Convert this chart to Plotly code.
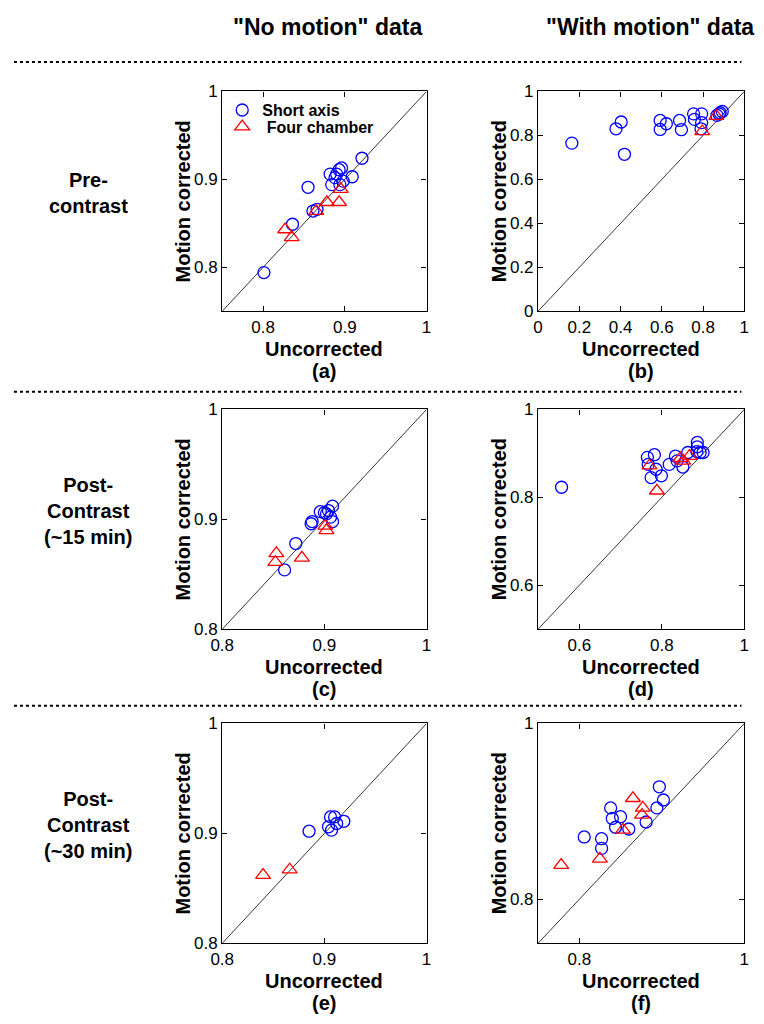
import plotly.graph_objects as go

# ---------------- data ----------------
# (a) No motion, pre-contrast
a_sa_x = [0.801, 0.836, 0.855, 0.861, 0.866, 0.921, 0.909, 0.882, 0.884, 0.888, 0.893, 0.896, 0.894, 0.890, 0.898]
a_sa_y = [0.794, 0.849, 0.891, 0.864, 0.866, 0.924, 0.903, 0.906, 0.894, 0.902, 0.911, 0.913, 0.894, 0.906, 0.898]
a_fc_x = [0.827, 0.835, 0.865, 0.878, 0.893, 0.895]
a_fc_y = [0.843, 0.834, 0.864, 0.874, 0.874, 0.889]

# (b) With motion, pre-contrast
b_sa_x = [0.164, 0.378, 0.403, 0.419, 0.592, 0.592, 0.622, 0.686, 0.695, 0.754, 0.758, 0.793, 0.793, 0.790, 0.867, 0.883, 0.893, 0.878]
b_sa_y = [0.765, 0.830, 0.861, 0.714, 0.868, 0.827, 0.853, 0.868, 0.826, 0.898, 0.873, 0.898, 0.858, 0.830, 0.891, 0.903, 0.909, 0.897]
b_fc_x = [0.796, 0.864]
b_fc_y = [0.818, 0.888]

# (c) No motion, post-contrast ~15 min
c_sa_x = [0.861, 0.872, 0.887, 0.888, 0.896, 0.900, 0.902, 0.904, 0.908, 0.908, 0.906]
c_sa_y = [0.854, 0.878, 0.896, 0.898, 0.907, 0.906, 0.905, 0.908, 0.912, 0.898, 0.902]
c_fc_x = [0.853, 0.852, 0.878, 0.901, 0.902]
c_fc_y = [0.869, 0.861, 0.865, 0.894, 0.890]

# (d) With motion, post-contrast ~15 min
d_sa_x = [0.557, 0.765, 0.782, 0.767, 0.774, 0.786, 0.799, 0.818, 0.833, 0.837, 0.851, 0.863, 0.886, 0.886, 0.885, 0.893, 0.900]
d_sa_y = [0.823, 0.891, 0.897, 0.875, 0.845, 0.864, 0.849, 0.875, 0.894, 0.883, 0.869, 0.902, 0.925, 0.915, 0.904, 0.902, 0.902]
d_fc_x = [0.770, 0.788, 0.845, 0.867, 0.852]
d_fc_y = [0.872, 0.815, 0.889, 0.894, 0.883]

# (e) No motion, post-contrast ~30 min
e_sa_x = [0.885, 0.904, 0.907, 0.910, 0.912, 0.919, 0.906]
e_sa_y = [0.902, 0.906, 0.903, 0.915, 0.909, 0.911, 0.915]
e_fc_x = [0.840, 0.866]
e_fc_y = [0.862, 0.867]

# (f) With motion, post-contrast ~30 min
f_sa_x = [0.806, 0.827, 0.827, 0.838, 0.840, 0.850, 0.844, 0.860, 0.881, 0.894, 0.902, 0.897]
f_sa_y = [0.871, 0.869, 0.858, 0.904, 0.892, 0.894, 0.882, 0.880, 0.888, 0.904, 0.913, 0.928]
f_fc_x = [0.778, 0.825, 0.853, 0.865, 0.877, 0.876]
f_fc_y = [0.839, 0.846, 0.879, 0.915, 0.904, 0.896]

# axis ranges and ticks
range_a = [0.75, 1.0]; ticks_a = [0.8, 0.9, 1.0]
range_b = [0.0, 1.0];  ticks_b = [0, 0.2, 0.4, 0.6, 0.8, 1.0]
range_c = [0.8, 1.0];  ticks_c = [0.8, 0.9, 1.0]
range_d = [0.5, 1.0];  ticks_d = [0.6, 0.8, 1.0]
range_e = [0.8, 1.0];  ticks_e = [0.8, 0.9, 1.0]
range_f = [0.75, 1.0]; ticks_f = [0.8, 1.0]

panel_labels = ["(a)", "(b)", "(c)", "(d)", "(e)", "(f)"]
col_headers = ['"No motion" data', '"With motion" data']
row_labels = ["Pre-<br>contrast", "Post-<br>Contrast<br>(~15 min)", "Post-<br>Contrast<br>(~30 min)"]
series_names = ["Short axis", "\u00a0Four chamber"]
x_title = "Uncorrected"
y_title = "Motion corrected"

# ---------------- layout geometry ----------------
W, H = 764, 1024
col_px = [(215, 424), (538, 749)]
row_px = [(84, 308), (408, 632), (728, 952)]

panels = [
    (a_sa_x, a_sa_y, a_fc_x, a_fc_y, range_a, ticks_a),
    (b_sa_x, b_sa_y, b_fc_x, b_fc_y, range_b, ticks_b),
    (c_sa_x, c_sa_y, c_fc_x, c_fc_y, range_c, ticks_c),
    (d_sa_x, d_sa_y, d_fc_x, d_fc_y, range_d, ticks_d),
    (e_sa_x, e_sa_y, e_fc_x, e_fc_y, range_e, ticks_e),
    (f_sa_x, f_sa_y, f_fc_x, f_fc_y, range_f, ticks_f),
]

BLUE = "#0000FF"
RED = "#FF0000"
FONT = "Liberation Sans, Arial, sans-serif"

def px_x(v):
    return v / W

def px_y(v):
    return 1 - v / H

fig = go.Figure()
layout = {}
annotations = []
shapes = []

for i, (sx, sy, fx, fy, rng, tv) in enumerate(panels):
    r, c = divmod(i, 2)
    k = i + 1
    xa = "x" if k == 1 else f"x{k}"
    ya = "y" if k == 1 else f"y{k}"
    # diagonal identity line
    fig.add_trace(go.Scatter(x=rng, y=rng, xaxis=xa, yaxis=ya, mode="lines",
                             line=dict(color="black", width=0.8),
                             showlegend=False, hoverinfo="skip"))
    fig.add_trace(go.Scatter(x=sx, y=sy, xaxis=xa, yaxis=ya, mode="markers",
                             name=series_names[0],
                             marker=dict(symbol="circle-open", size=12, color=BLUE,
                                         line=dict(width=1.3, color=BLUE)),
                             showlegend=(i == 0), legend="legend"))
    fig.add_trace(go.Scatter(x=fx, y=fy, xaxis=xa, yaxis=ya, mode="markers",
                             name=series_names[1],
                             marker=dict(symbol="triangle-up-open", size=13, color=RED,
                                         line=dict(width=1.3, color=RED)),
                             showlegend=(i == 0), legend="legend2"))
    x0, x1 = col_px[c]
    y0, y1 = row_px[r]
    axis_common = dict(showline=True, linecolor="black", linewidth=1.2, mirror="ticks",
                       ticks="inside", ticklen=5, tickwidth=1, tickcolor="black",
                       showgrid=False, zeroline=False, fixedrange=True,
                       tickfont=dict(family=FONT, size=17, color="black"))
    layout["xaxis" if k == 1 else f"xaxis{k}"] = dict(
        domain=[px_x(x0), px_x(x1)], anchor=ya, range=rng, tickvals=tv, **axis_common)
    layout["yaxis" if k == 1 else f"yaxis{k}"] = dict(
        domain=[px_y(y1), px_y(y0)], anchor=xa, range=rng, tickvals=tv, **axis_common)
    cx = (x0 + x1) / 2
    cy = (y0 + y1) / 2
    annotations.append(dict(text=x_title, x=px_x(cx), y=px_y(y1 + 38), xref="paper", yref="paper",
                            showarrow=False, xanchor="center", yanchor="middle",
                            font=dict(family=FONT, size=20, color="black", weight="bold")))
    annotations.append(dict(text=panel_labels[i], x=px_x(cx), y=px_y(y1 + 61), xref="paper", yref="paper",
                            showarrow=False, xanchor="center", yanchor="middle",
                            font=dict(family=FONT, size=20, color="black", weight="bold")))
    annotations.append(dict(text=y_title, x=px_x(x0 - 40), y=px_y(cy), xref="paper", yref="paper",
                            showarrow=False, xanchor="center", yanchor="middle", textangle=-90,
                            font=dict(family=FONT, size=20, color="black", weight="bold")))

for r, lab in enumerate(row_labels):
    y0, y1 = row_px[r]
    annotations.append(dict(text=lab, x=px_x(78), y=px_y((y0 + y1) / 2 - 9), xref="paper", yref="paper",
                            showarrow=False, xanchor="center", yanchor="middle", align="center",
                            font=dict(family=FONT, size=20, color="black", weight="bold")))

for c, hdr in enumerate(col_headers):
    annotations.append(dict(text=hdr, x=px_x([323, 653][c]), y=px_y(18), xref="paper", yref="paper",
                            showarrow=False, xanchor="center", yanchor="middle",
                            font=dict(family=FONT, size=23, color="black", weight="bold")))

for yy in [54, 390, 710]:
    shapes.append(dict(type="line", xref="paper", yref="paper", x0=px_x(2), x1=px_x(746),
                       y0=px_y(yy), y1=px_y(yy), line=dict(color="black", width=2, dash="dot")))

legend_font = dict(family=FONT, size=16, color="black", weight="bold")
layout["legend"] = dict(x=px_x(215), y=px_y(103), xanchor="left", yanchor="middle",
                        bgcolor="rgba(0,0,0,0)", borderwidth=0, font=legend_font,
                        itemwidth=30, tracegroupgap=0)
layout["legend2"] = dict(x=px_x(215), y=px_y(120), xanchor="left", yanchor="middle",
                         bgcolor="rgba(0,0,0,0)", borderwidth=0, font=legend_font,
                         itemwidth=30, tracegroupgap=0)

fig.update_layout(width=W, height=H, margin=dict(l=0, r=0, t=0, b=0),
                  paper_bgcolor="white", plot_bgcolor="white",
                  annotations=annotations, shapes=shapes, **layout)

# remove the browser's default 8px page margin so the figure sits at the window origin
fig.write_html("out.html", config={"displayModeBar": False},
               post_script="document.body.style.margin='0px';")
